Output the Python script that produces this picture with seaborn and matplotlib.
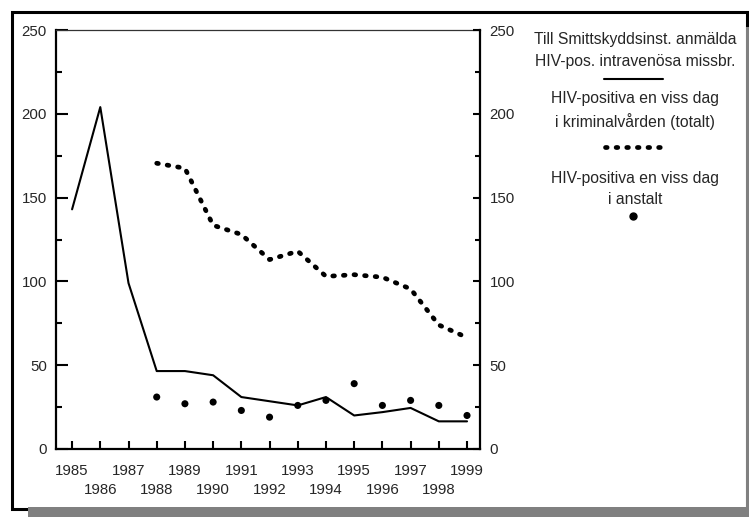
import numpy as np
import pandas as pd
import matplotlib
matplotlib.use('Agg')
import matplotlib.pyplot as plt
from matplotlib.lines import Line2D
from matplotlib.patches import Rectangle
import seaborn as sns

# dane
lata = list(range(1985, 2000))
smittskydd = [143, 204, 99, 46.5, 46.5, 44, 31, 28.5, 26, 31, 20, 22, 24.5, 16.5, 16.5]
lata_krim = list(range(1988, 2000))
kriminalvard = [170.5, 167.5, 133.5, 128, 113, 118, 103, 104, 102.5, 95.5, 74, 66.5]
lata_anstalt = list(range(1988, 2000))
anstalt = [31, 27, 28, 23, 19, 26, 29, 39, 26, 29, 26, 20]

lata_niep = [r for r in lata if r % 2 == 1]
lata_parz = [r for r in lata if r % 2 == 0]

sns.set_style('ticks')
plt.rcParams['font.family'] = ['Liberation Sans', 'DejaVu Sans']

W, H = 749, 517
fig = plt.figure(figsize=(W / 100, H / 100), dpi=100)

def fx(x):
    return x / W

def fy(y):
    return 1 - y / H

ax = fig.add_axes([fx(56), fy(449), fx(480) - fx(56), fy(30) - fy(449)])

df1 = pd.DataFrame({'rok': lata, 'v': smittskydd})
df2 = pd.DataFrame({'rok': lata_krim, 'v': kriminalvard})
df3 = pd.DataFrame({'rok': lata_anstalt, 'v': anstalt})

kropki = (0, (0.35, 1.9))
sns.lineplot(data=df1, x='rok', y='v', color='black', linewidth=1.5, ax=ax)
sns.lineplot(data=df2, x='rok', y='v', color='black', linewidth=3.4,
             linestyle=kropki, dash_capstyle='round', ax=ax)
sns.scatterplot(data=df3, x='rok', y='v', color='black', s=26,
                edgecolor='none', ax=ax, zorder=3)

ax.set_xlim(1984.43, 1999.46)
ax.set_ylim(0, 250)
ax.set_xlabel('')
ax.set_ylabel('')
# lata nieparzyste w górnym rzędzie, parzyste w dolnym
ax.set_xticks(lata_niep)
ax.set_xticklabels([str(r) for r in lata_niep], fontsize=10.8)
ax.set_xticks(lata_parz, minor=True)
ax.set_xticklabels([str(r) for r in lata_parz], minor=True, fontsize=10.8)
ax.tick_params(axis='x', which='major', direction='in', length=5.8, width=1.5,
               pad=10.5, color='black')
ax.tick_params(axis='x', which='minor', direction='in', length=5.8, width=1.5,
               pad=24.5, color='black')

ax.set_yticks(np.arange(0, 251, 50))
ax.set_yticks(np.arange(25, 250, 50), minor=True)
ax.tick_params(axis='y', which='major', direction='in', length=8.5, width=1.5,
               labelsize=10.8, pad=6.5, color='black')
ax.tick_params(axis='y', which='minor', direction='in', length=4.5, width=1.5,
               color='black')

for s in ['left', 'bottom']:
    ax.spines[s].set_linewidth(1.6)
    ax.spines[s].set_color('black')
ax.spines['top'].set_linewidth(0.9)
ax.spines['top'].set_color('#333333')
ax.spines['right'].set_visible(False)

ax2 = ax.twinx()
ax2.set_ylim(0, 250)
ax2.set_yticks(np.arange(0, 251, 50))
ax2.set_yticks(np.arange(25, 250, 50), minor=True)
ax2.tick_params(axis='y', which='major', direction='in', length=5, width=1.5,
                labelsize=10.8, pad=7, color='black')
ax2.tick_params(axis='y', which='minor', direction='in', length=3.6, width=1.5,
                color='black')
for s in ['left', 'bottom', 'top']:
    ax2.spines[s].set_visible(False)
ax2.spines['right'].set_linewidth(1.6)
ax2.spines['right'].set_color('black')

# legenda jako tekst po prawej stronie
cx = fx(635)
tekst = dict(ha='center', va='center', fontsize=11.3, linespacing=1.55)
fig.text(cx, fy(50.5), 'Till Smittskyddsinst. anmälda\nHIV-pos. intravenösa missbr.', **tekst)
fig.add_artist(Line2D([fx(604), fx(663)], [fy(79), fy(79)], color='black', lw=1.5))
fig.text(cx, fy(110.5), 'HIV-positiva en viss dag\ni kriminalvården (totalt)', **tekst)
fig.add_artist(Line2D([fx(605), fx(661)], [fy(147), fy(147)], color='black', lw=3.4,
                      linestyle=kropki, dash_capstyle='round'))
fig.text(cx, fy(189), 'HIV-positiva en viss dag\ni anstalt', **tekst)
fig.add_artist(Line2D([fx(633)], [fy(216)], color='black', marker='o',
                      markersize=5, linestyle='none'))

# ramka z cieniem
fig.add_artist(Rectangle((fx(11.5), fy(508.5)), fx(746.5) - fx(11.5), fy(11.5) - fy(508.5),
                         fill=False, edgecolor='black', linewidth=2.2,
                         transform=fig.transFigure, zorder=5))
fig.add_artist(Rectangle((fx(28), fy(517)), fx(749) - fx(28), fy(507) - fy(517),
                         facecolor='#808080', edgecolor='none',
                         transform=fig.transFigure, zorder=6))
fig.add_artist(Rectangle((fx(745.5), fy(517)), fx(749) - fx(745.5), fy(27) - fy(517),
                         facecolor='#808080', edgecolor='none',
                         transform=fig.transFigure, zorder=6))

fig.savefig('out.png', dpi=100)
